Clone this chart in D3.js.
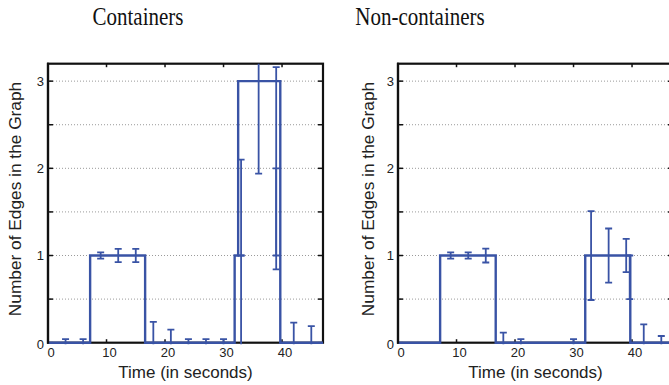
<!DOCTYPE html>
<html><head><meta charset="utf-8">
<script src="https://cdn.jsdelivr.net/npm/d3@7/dist/d3.min.js"></script>
<style>body{margin:0;background:#fff}svg{display:block}</style>
</head><body>
<svg id="c" width="669" height="385"></svg>
<script>
// ---- data ----
const titles = ["Containers", "Non-containers"];
const xLabel = "Time (in seconds)";
const yLabel = "Number of Edges in the Graph";
const xTicks = [0, 10, 20, 30, 40];
const yTicks = [0, 0.5, 1, 1.5, 2, 2.5, 3];
const yTickLabels = ["0", "", "1", "", "2", "", "3"];
const xDomain = [0, 47];
const yDomain = [0, 3.2];

// Containers: step line and error bars (time, lower, upper)
const contStepT = [0, 7.2, 16.6, 31.9, 32.5, 39.7, 47];
const contStepV = [0, 1, 0, 1, 3, 0, 0];
const contErrT  = [3, 6, 9, 12, 15, 18, 21, 24, 27, 30, 33, 33, 36, 39, 39, 42, 45];
const contErrLo = [-0.04, -0.04, 0.965, 0.925, 0.925, -0.24, -0.15, -0.04, -0.04, -0.04, -0.1, 1.0, 1.94, 0.84, 1.0, -0.23, -0.19];
const contErrHi = [0.04, 0.04, 1.035, 1.075, 1.075, 0.24, 0.15, 0.04, 0.04, 0.04, 1.0, 2.1, 4.06, 2.0, 3.16, 0.23, 0.19];

// Non-containers
const nonStepT = [0, 7.2, 16.7, 32.0, 39.7, 47];
const nonStepV = [0, 1, 0, 1, 0, 0];
const nonErrT  = [9, 12, 15, 18, 21, 30, 33, 36, 39, 39.6, 42, 45];
const nonErrLo = [0.965, 0.965, 0.92, -0.115, -0.04, -0.04, 0.49, 0.69, 0.81, 0.5, -0.21, -0.077];
const nonErrHi = [1.035, 1.035, 1.08, 0.115, 0.04, 0.04, 1.51, 1.31, 1.19, 1.0, 0.21, 0.077];

// ---- drawing ----
const svg = d3.select("#c");
const blue = "#3953a5";
const panels = [
  {title: titles[0], x0: 48, titleX: 138, ylabX: 20.5, st: contStepT, sv: contStepV, et: contErrT, el: contErrLo, eh: contErrHi},
  {title: titles[1], x0: 398, titleX: 420, ylabX: 373.5, st: nonStepT, sv: nonStepV, et: nonErrT, el: nonErrLo, eh: nonErrHi}
];
const W = 275, yTop = 63.7, yBot = 342.7;

panels.forEach((p, i) => {
  const x = d3.scaleLinear().domain(xDomain).range([p.x0, p.x0 + W]);
  const y = d3.scaleLinear().domain(yDomain).range([yBot, yTop]);
  const g = svg.append("g");

  // title
  g.append("text").attr("transform", `translate(${p.titleX},25) scale(1,1.22)`)
    .attr("text-anchor", "middle").attr("font-family", "Liberation Serif, Times New Roman, serif")
    .attr("font-size", 21).attr("fill", "#111").text(p.title);

  // grid
  g.selectAll(".grid").data(yTicks.filter(d => d > 0)).enter().append("line")
    .attr("x1", x(0) + 2).attr("x2", x(47) - 5)
    .attr("y1", d => y(d)).attr("y2", d => y(d))
    .attr("stroke", "#9a9a9a").attr("stroke-width", 1).attr("stroke-dasharray", "1,2");

  // frame
  g.append("rect").attr("x", x(0)).attr("y", yTop).attr("width", W).attr("height", yBot - yTop)
    .attr("fill", "none").attr("stroke", "#111").attr("stroke-width", 2.2);

  // y ticks (inside, both sides)
  yTicks.forEach(d => {
    g.append("line").attr("x1", x(0)).attr("x2", x(0) + 5).attr("y1", y(d)).attr("y2", y(d)).attr("stroke", "#111").attr("stroke-width", 1.5);
    g.append("line").attr("x1", x(47)).attr("x2", x(47) - 5).attr("y1", y(d)).attr("y2", y(d)).attr("stroke", "#111").attr("stroke-width", 1.5);
  });
  // x ticks (inside, top and bottom)
  xTicks.filter(d => d > 0).forEach(d => {
    g.append("line").attr("x1", x(d)).attr("x2", x(d)).attr("y1", yTop).attr("y2", yTop + 3.5).attr("stroke", "#111").attr("stroke-width", 1.5);
    g.append("line").attr("x1", x(d)).attr("x2", x(d)).attr("y1", yBot).attr("y2", yBot - 3.5).attr("stroke", "#111").attr("stroke-width", 1.5);
  });

  // tick labels
  g.selectAll(".xl").data(xTicks).enter().append("text")
    .attr("x", d => x(d) + 3).attr("y", 357).attr("text-anchor", "middle")
    .attr("font-family", "Liberation Sans, Arial, sans-serif").attr("font-size", 13).attr("fill", "#222")
    .text(d => d);
  g.selectAll(".yl").data(yTicks).enter().append("text")
    .attr("x", x(0) - 4).attr("y", d => y(d) + (d === 0 ? 6 : 4.5)).attr("text-anchor", "end")
    .attr("font-family", "Liberation Sans, Arial, sans-serif").attr("font-size", 13).attr("fill", "#222")
    .text((d, k) => yTickLabels[k]);

  // axis labels
  g.append("text").attr("x", x(0) + W / 2).attr("y", 378).attr("text-anchor", "middle")
    .attr("font-family", "Liberation Sans, Arial, sans-serif").attr("font-size", 17).attr("fill", "#222").text(xLabel);
  g.append("text").attr("transform", `translate(${p.ylabX},199) rotate(-90)`).attr("text-anchor", "middle")
    .attr("font-family", "Liberation Sans, Arial, sans-serif").attr("font-size", 17.3).attr("fill", "#222").text(yLabel);

  // data, clipped to axes
  const cid = "clip" + i;
  svg.append("clipPath").attr("id", cid).append("rect")
    .attr("x", x(0) - 2).attr("y", yTop).attr("width", W + 4).attr("height", yBot - yTop + 1.5);
  const dg = g.append("g").attr("clip-path", `url(#${cid})`);

  const pts = p.st.map((t, k) => [t, p.sv[k]]);
  dg.append("path").datum(pts)
    .attr("d", d3.line().x(d => x(d[0])).y(d => y(d[1])).curve(d3.curveStepAfter))
    .attr("fill", "none").attr("stroke", blue).attr("stroke-width", 2.4);

  const cap = 3.5;
  p.et.forEach((t, k) => {
    const xx = x(t), y1 = y(p.el[k]), y2 = y(p.eh[k]);
    dg.append("line").attr("x1", xx).attr("x2", xx).attr("y1", y1).attr("y2", y2).attr("stroke", blue).attr("stroke-width", 1.8);
    [y1, y2].forEach(yy => dg.append("line").attr("x1", xx - cap).attr("x2", xx + cap).attr("y1", yy).attr("y2", yy).attr("stroke", blue).attr("stroke-width", 1.8));
  });

  // left frame edge drawn over data
  g.append("line").attr("x1", x(0)).attr("x2", x(0)).attr("y1", yTop - 1).attr("y2", yBot + 1).attr("stroke", "#111").attr("stroke-width", 2.2);
});
</script>
</body></html>
